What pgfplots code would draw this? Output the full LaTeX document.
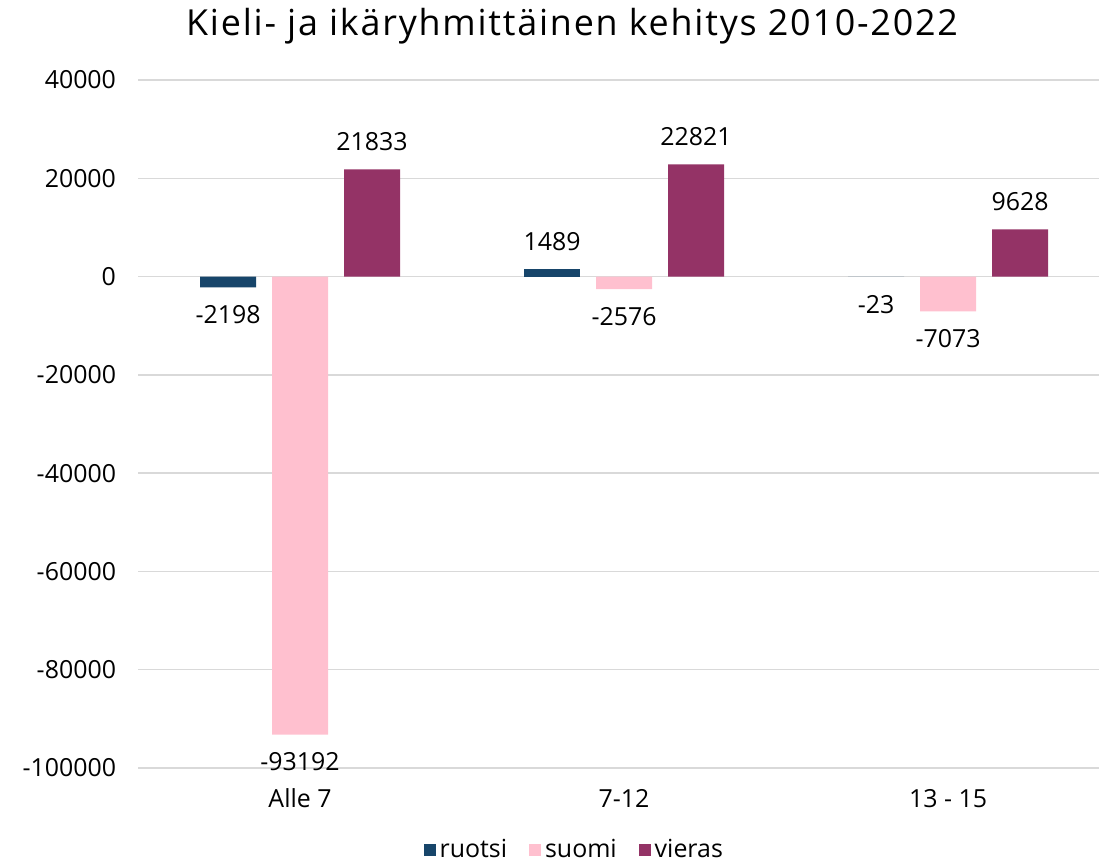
\documentclass[border=0pt]{standalone}
\usepackage{pgfplots}
\pgfplotsset{compat=1.18}
\usepackage{fontspec}
\setmainfont{Open Sans}
\definecolor{ruotsi}{HTML}{17456A}
\definecolor{suomi}{HTML}{FFC0CF}
\definecolor{vieras}{HTML}{943366}
\definecolor{gridc}{HTML}{D9D9D9}
\begin{document}
\begin{tikzpicture}[x=1bp,y=1bp]
\useasboundingbox (0,0) rectangle (549.5,430.5);
\begin{axis}[
  at={(69bp,46.5bp)}, anchor=south west,
  scale only axis, width=480.5bp, height=344bp,
  ybar, bar width=28bp,
  xmin=-0.5, xmax=2.466,
  ymin=-100000, ymax=40000,
  ytick={-100000,-80000,-60000,-40000,-20000,0,20000,40000},
  yticklabels={-100000,-80000,-60000,-40000,-20000,0,20000,40000},
  xtick={0,1,2}, xticklabels={Alle 7, 7-12, 13 - 15},
  ymajorgrids, grid style={gridc, line width=0.75bp},
  axis line style={draw=none},
  major tick length=0pt,
  clip=false,
  tick label style={font=\fontsize{12.5}{15}\selectfont},
  yticklabel style={xshift=-7.5bp},
  xticklabel style={yshift=-7bp},
  scaled y ticks=false,
  point meta=explicit symbolic,
  nodes near coords,
  every node near coord/.append style={font=\fontsize{12.5}{15}\selectfont, inner sep=9bp, text=black},
  legend style={at={(0.455,-0.119)}, anchor=center, legend columns=-1, draw=none, fill=none,
    font=\fontsize{12.5}{15}\selectfont,
    /tikz/every even column/.append style={column sep=9bp}},
  legend image code/.code={\fill[#1] (0bp,-3bp) rectangle (6bp,3bp);},
]
% ruotsi
\addplot[fill=ruotsi, draw=none, bar shift=-36bp] coordinates {(1,1489) [1489]};
\addlegendentry{ruotsi}
\addplot[fill=suomi, draw=none, bar shift=0bp, every node near coord/.append style={anchor=north}] coordinates {(0,-93192) [-93192] (1,-2576) [-2576] (2,-7073) [-7073]};
\addlegendentry{suomi}
\addplot[fill=vieras, draw=none, bar shift=36bp] coordinates {(0,21833) [21833] (1,22821) [22821] (2,9628) [9628]};
\addlegendentry{vieras}
\addplot[fill=ruotsi, draw=none, bar shift=-36bp, forget plot, every node near coord/.append style={anchor=north}] coordinates {(0,-2198) [-2198] (2,-23) [-23]};
\end{axis}
\node[font=\fontsize{18}{22}\selectfont\addfontfeatures{LetterSpace=5}] at (286,417.5) {Kieli- ja ikäryhmittäinen kehitys 2010-2022};
\end{tikzpicture}
\end{document}
